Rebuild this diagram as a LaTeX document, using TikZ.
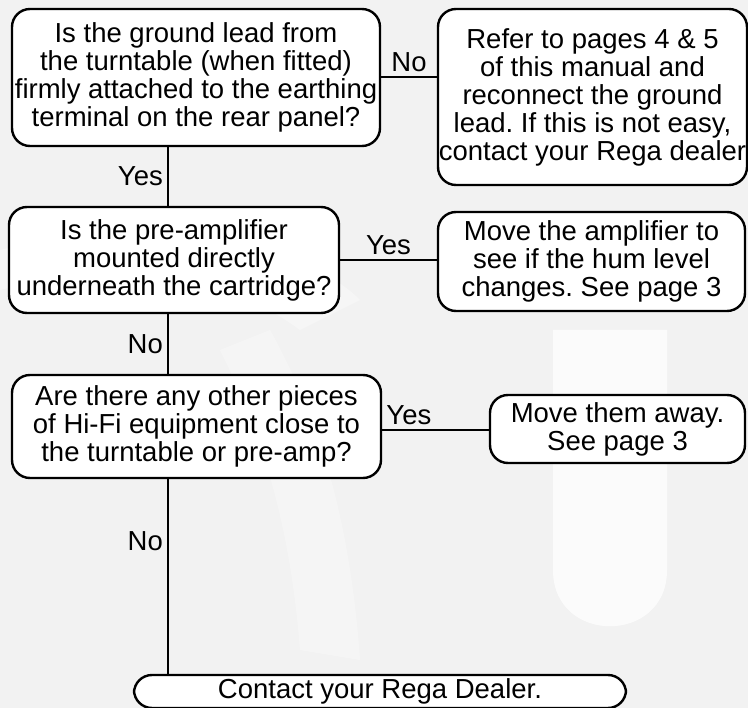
\documentclass[tikz,border=0pt]{standalone}
\usepackage{fontspec}
\setmainfont{Liberation Sans}
\usetikzlibrary{positioning}
\definecolor{bggrey}{HTML}{F2F2F2}
\frenchspacing
\tikzset{
  box/.style={draw,line width=2.4pt,rounded corners=18pt,fill=white,
    align=center,inner sep=0pt,font=\fontsize{27.5}{28}\selectfont},
  link/.style={line width=2.4pt},
  tag/.style={font=\fontsize{27.5}{28}\selectfont,inner sep=4pt}
}
\begin{document}
\begin{tikzpicture}[x=1pt,y=-1pt]
  % background and faint watermark
  \fill[bggrey] (0,0) rectangle (748,708);
  \useasboundingbox (0,0) rectangle (748,708);
  \fill[white,opacity=0.75] (553,330) -- (667,330) -- (667,570)
    .. controls (667,645) and (553,645) .. (553,570) -- cycle;
  \fill[white,opacity=0.35] (0,250) .. controls (150,215) and (300,240) .. (360,300)
    -- (300,330) .. controls (220,270) and (100,265) .. (0,290) -- cycle;
  \fill[white,opacity=0.3] (270,330) .. controls (320,420) and (350,520) .. (360,660)
    -- (300,650) .. controls (290,520) and (260,430) .. (220,350) -- cycle;

  \coordinate (spine) at (168,0);
  \node[box,minimum width=368pt,minimum height=137pt] (ground) at (196,77.5)
    {Is the ground lead from\\the turntable (when fitted)\\firmly attached to the earthing\\terminal on the rear panel?};
  \node[box,minimum width=309pt,minimum height=176pt] (reconnect) at (592.5,97)
    {Refer to pages 4 \& 5\\of this manual and\\reconnect the ground\\lead. If this is not easy,\\contact your Rega dealer};
  \node[box,minimum width=330pt,minimum height=106pt] (preamp) at (174,260)
    {Is the pre-amplifier\\mounted directly\\underneath the cartridge?};
  \node[box,minimum width=307pt,minimum height=99pt] (moveamp) at (591.5,261.5)
    {Move the amplifier to\\see if the hum level\\changes. See page 3};
  \node[box,minimum width=369pt,minimum height=103pt] (hifi) at (196.5,426.5)
    {Are there any other pieces\\of Hi-Fi equipment close to\\the turntable or pre-amp?};
  \node[box,minimum width=255pt,minimum height=68pt] (moveaway) at (617.5,429)
    {Move them away.\\See page 3};
  \node[box,minimum width=492pt,minimum height=33pt] (dealer) at (380,691.5)
    {Contact your Rega Dealer.};

  \draw[link] (ground.east |- 0,77) -- node[tag,above] {No} (reconnect.west |- 0,77);
  \draw[link] (ground.south -| spine) -- node[tag,left] {Yes} (preamp.north -| spine);
  \draw[link] (preamp.east) -- node[tag,above] {Yes} (moveamp.west |- preamp.east);
  \draw[link] (preamp.south -| spine) -- node[tag,left] {No} (hifi.north -| spine);
  \draw[link] (hifi.east |- 0,430) -- node[tag,above,pos=0.25] {Yes} (moveaway.west |- 0,430);
  \draw[link] (hifi.south -| spine) -- node[tag,left,pos=0.32] {No} (dealer.north -| spine);
\end{tikzpicture}
\end{document}
